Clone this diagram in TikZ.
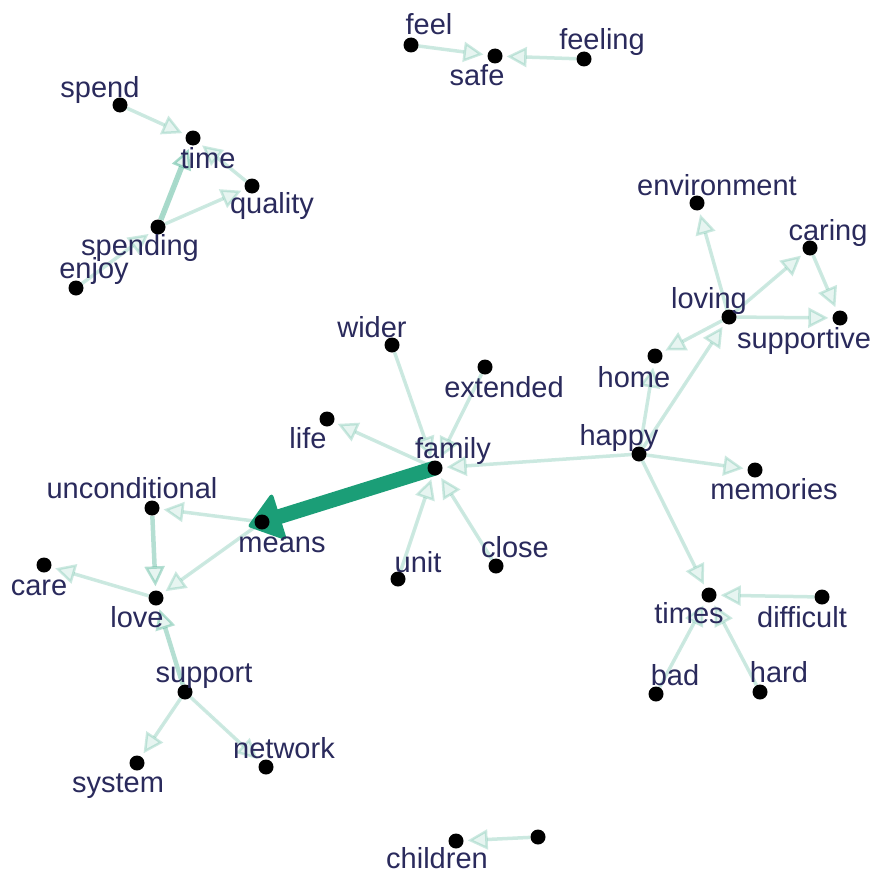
\documentclass[tikz,border=0pt]{standalone}
\usepackage{fontspec}
\setmainfont{Liberation Sans}
\usetikzlibrary{arrows.meta}
\pgfdeclarelayer{bg}
\pgfsetlayers{bg,main}
\definecolor{edgecol}{HTML}{1B9E77}
\definecolor{txtcol}{HTML}{2A2A5C}
\tikzset{
  dot/.style={circle, fill=black, inner sep=0pt, minimum size=15pt},
  lbl/.style={anchor=base, text=txtcol, font=\fontsize{29}{29}\selectfont, inner sep=0pt},
  edge/.style={draw=edgecol, draw opacity=0.22, fill opacity=0.1, fill=edgecol, line width=3.5pt, shorten >=4pt,
    -{Triangle[length=20pt, width=20pt, line width=2.5pt]}},
  edgemid/.style={edge, draw opacity=0.32, line width=4.5pt},
  edgestrong/.style={edge, draw opacity=0.38, line width=5.5pt},
  edgethick/.style={draw=edgecol, line width=15pt, shorten >=-14pt,
    -{Triangle[length=34pt, width=50pt, line width=4pt, round]}},
}
\begin{document}
\begin{tikzpicture}[x=1pt, y=-1pt]
\begin{pgfonlayer}{bg}
\fill[white] (0,0) rectangle (874,875);
\end{pgfonlayer}
\useasboundingbox (0,0) rectangle (874,875);
% nodes (dots)
\node[dot] (spend) at (120,105) {};
\node[dot] (time) at (193,138) {};
\node[dot] (quality) at (252,186) {};
\node[dot] (spending) at (158,227) {};
\node[dot] (enjoy) at (76,288) {};
\node[dot] (feel) at (411,45) {};
\node[dot] (safe) at (495,56) {};
\node[dot] (feeling) at (584,59) {};
\node[dot] (environment) at (697,203) {};
\node[dot] (caring) at (810,248) {};
\node[dot] (loving) at (729,317) {};
\node[dot] (supportive) at (840,318) {};
\node[dot] (home) at (655,356) {};
\node[dot] (happy) at (639,454) {};
\node[dot] (memories) at (755,470) {};
\node[dot] (wider) at (392,345) {};
\node[dot] (extended) at (485,367) {};
\node[dot] (life) at (327,419) {};
\node[dot] (family) at (435,468) {};
\node[dot] (means) at (262,522) {};
\node[dot] (unit) at (398,579) {};
\node[dot] (close) at (496,566) {};
\node[dot] (unconditional) at (152,508) {};
\node[dot] (care) at (44,565) {};
\node[dot] (love) at (156,598) {};
\node[dot] (support) at (185,692) {};
\node[dot] (system) at (137,763) {};
\node[dot] (network) at (266,767) {};
\node[dot] (times) at (709,595) {};
\node[dot] (difficult) at (822,597) {};
\node[dot] (bad) at (656,694) {};
\node[dot] (hard) at (760,692) {};
\node[dot] (children) at (456,841) {};
\node[dot] (other) at (538,837) {};
% edges (behind dots)
\begin{pgfonlayer}{bg}
\draw[edge] (spend) -- (time);
\draw[edgestrong] (spending) -- (time);
\draw[edge] (quality) -- (time);
\draw[edge] (spending) -- (quality);
\draw[edge] (enjoy) -- (spending);
\draw[edge] (feel) -- (safe);
\draw[edge] (feeling) -- (safe);
\draw[edge] (loving) -- (environment);
\draw[edge] (loving) -- (caring);
\draw[edge] (caring) -- (supportive);
\draw[edge] (loving) -- (supportive);
\draw[edge] (loving) -- (home);
\draw[edge] (happy) -- (loving);
\draw[edge] (happy) -- (home);
\draw[edge] (happy) -- (memories);
\draw[edge] (happy) -- (times);
\draw[edge] (difficult) -- (times);
\draw[edge] (bad) -- (times);
\draw[edge] (hard) -- (times);
\draw[edge] (wider) -- (family);
\draw[edge] (extended) -- (family);
\draw[edge] (family) -- (life);
\draw[edge] (unit) -- (family);
\draw[edge] (close) -- (family);
\draw[edge] (happy) -- (family);
\draw[edge] (means) -- (unconditional);
\draw[edge] (means) -- (love);
\draw[edgemid] (unconditional) -- (love);
\draw[edge] (love) -- (care);
\draw[edgemid] (support) -- (love);
\draw[edge] (support) -- (system);
\draw[edge] (support) -- (network);
\draw[edge] (other) -- (children);
\draw[edgethick] (family.center) -- (means.center);
\end{pgfonlayer}
% labels
\node[lbl] (tspend) at (100,97) {spend};
\node[lbl] (ttime) at (208,168) {time};
\node[lbl] (tquality) at (272,213) {quality};
\node[lbl] (tspending) at (140,255) {spending};
\node[lbl] (tenjoy) at (94,278) {enjoy};
\node[lbl] (tfeel) at (429,35) {feel};
\node[lbl] (tsafe) at (477,85) {safe};
\node[lbl] (tfeeling) at (602,50) {feeling};
\node[lbl] (tenvironment) at (717,195) {environment};
\node[lbl] (tcaring) at (828,240) {caring};
\node[lbl] (tloving) at (709,308) {loving};
\node[lbl] (tsupportive) at (804,348) {supportive};
\node[lbl] (thome) at (634,387) {home};
\node[lbl] (thappy) at (619,445) {happy};
\node[lbl] (tmemories) at (774,499) {memories};
\node[lbl] (twider) at (372,337) {wider};
\node[lbl] (textended) at (504,397) {extended};
\node[lbl] (tlife) at (308,448) {life};
\node[lbl] (tfamily) at (453,458) {family};
\node[lbl] (tmeans) at (282,552) {means};
\node[lbl] (tunit) at (418,572) {unit};
\node[lbl] (tclose) at (515,557) {close};
\node[lbl] (tunconditional) at (132,498) {unconditional};
\node[lbl] (tcare) at (39,595) {care};
\node[lbl] (tlove) at (137,627) {love};
\node[lbl] (tsupport) at (204,682) {support};
\node[lbl] (tsystem) at (118,792) {system};
\node[lbl] (tnetwork) at (284,758) {network};
\node[lbl] (ttimes) at (689,623) {times};
\node[lbl] (tdifficult) at (802,627) {difficult};
\node[lbl] (tbad) at (675,685) {bad};
\node[lbl] (thard) at (779,682) {hard};
\node[lbl] (tchildren) at (437,868) {children};
\end{tikzpicture}
\end{document}
